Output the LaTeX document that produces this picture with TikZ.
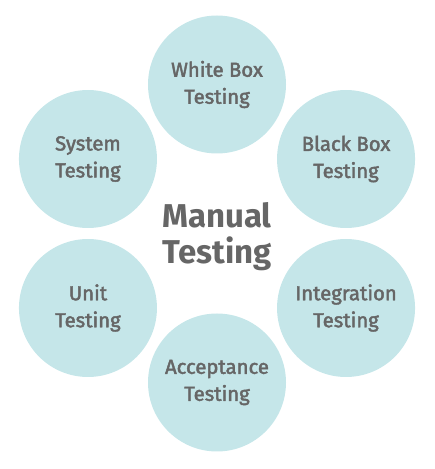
\documentclass[tikz,border=0pt]{standalone}
\usepackage{fontspec}
\setmainfont{Fira Sans}
\newfontfamily\labelfont{Fira Sans}[FakeBold=2.2]
\usetikzlibrary{calc}

\definecolor{bubble}{RGB}{197,230,233}
\definecolor{ink}{RGB}{102,102,102}

\begin{document}
\begin{tikzpicture}[
    x=1pt, y=1pt, % work in pixels of the reference
    bubble/.style={circle, fill=bubble, minimum size=138pt, inner sep=0pt, align=center,
      text=ink, font=\labelfont\fontsize{20.3}{27}\selectfont}, % Style for the outer circles
    hub/.style={align=center, text=ink, font=\bfseries\fontsize{33}{36}\selectfont} % Style for the centre title
  ]

  % --- Frame ---
  \useasboundingbox (0,0) rectangle (435,469);

  % --- Centre ---
  \coordinate (center) at (217,235.5);
  \node[hub] (manual) at ($(center)+(0,-3)$) {Manual\\Testing};

  % --- Outer circles (hexagon, radius 149) ---
  \foreach \angle/\name/\text in {90/whitebox/White Box\\Testing,
                                  30/blackbox/Black Box\\Testing,
                                  -30/integration/Integration\\Testing,
                                  -90/acceptance/Acceptance\\Testing,
                                  -150/unit/Unit\\Testing,
                                  150/system/System\\Testing} {
      \node[bubble] (\name) at ($(center)+(\angle:149)$) {\text};
  }

\end{tikzpicture}
\end{document}
